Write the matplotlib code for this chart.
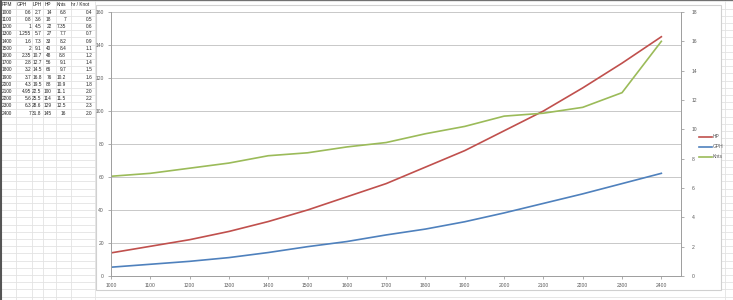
import matplotlib
matplotlib.use("Agg")
import matplotlib.pyplot as plt
from matplotlib.patches import Rectangle
from matplotlib.lines import Line2D

plt.rcParams["font.family"] = ["Liberation Sans", "DejaVu Sans"]

# ---- data ----
rpm = [1000, 1100, 1200, 1300, 1400, 1500, 1600, 1700, 1800, 1900, 2000, 2100, 2200, 2300, 2400]
gph = [0.6, 0.8, 1, 1.255, 1.6, 2, 2.35, 2.8, 3.2, 3.7, 4.3, 4.95, 5.6, 6.3, 7]
lph = [2.7, 3.6, 4.5, 5.7, 7.3, 9.1, 10.7, 12.7, 14.5, 16.8, 19.5, 22.5, 25.5, 28.6, 31.8]
hp = [14, 18, 22, 27, 33, 40, 48, 56, 66, 76, 88, 100, 114, 129, 145]
knts = [6.8, 7, 7.35, 7.7, 8.2, 8.4, 8.8, 9.1, 9.7, 10.2, 10.9, 11.1, 11.5, 12.5, 16]
hr_per_knot = [0.4, 0.5, 0.6, 0.7, 0.9, 1.1, 1.2, 1.4, 1.5, 1.6, 1.8, 2.0, 2.2, 2.3, 2.0]
headers = ["RPM", "GPH", "LPH", "HP", "Knts", "hr / Knot"]

W, H = 733, 300
fig = plt.figure(figsize=(W / 100, H / 100), dpi=100)
fig.patch.set_facecolor("white")

# ---- spreadsheet background (pixel coordinates) ----
bg = fig.add_axes([0, 0, 1, 1])
bg.set_xlim(0, W)
bg.set_ylim(H, 0)
bg.axis("off")
grid_c = "#e3e3e3"
row_h = 7.2
y = 1.4
while y < H:
    bg.plot([0, W], [y, y], color=grid_c, lw=0.6, zorder=0)
    y += row_h
for x in [15.7, 32.3, 43.3, 56, 70.7, 95, 725]:
    bg.plot([x, x], [0, H], color=grid_c, lw=0.6, zorder=0)
bg.plot([0.5, 0.5], [0, H], color="#555555", lw=1.5, zorder=1)
bg.plot([0, W], [0.3, 0.3], color="#555555", lw=1.2, zorder=1)

tfs = 3.4
tc = "#222222"
hdr_x = [2, 16.5, 33, 45, 57, 70.8]
for hx, h in zip(hdr_x, headers):
    bg.text(hx, 5, h, fontsize=tfs, color=tc, ha="left", va="center")
val_right = [None, 31.2, 41.6, 51.5, 66, 92.5]
for i in range(len(rpm)):
    yy = 12.3 + row_h * i
    bg.text(2, yy, f"{rpm[i]}", fontsize=tfs, color=tc, ha="left", va="center")
    vals = [f"{gph[i]:g}", f"{lph[i]:g}", f"{hp[i]:g}", f"{knts[i]:g}", f"{hr_per_knot[i]:.1f}"]
    for xr, v in zip(val_right[1:], vals):
        bg.text(xr, yy, v, fontsize=tfs, color=tc, ha="right", va="center")

# chart area box
bg.add_patch(Rectangle((96, 5), 625, 285, facecolor="white", edgecolor="#d0d0d0", lw=0.8, zorder=2))

# ---- chart ----
L, R, T, B = 111, 681, 12, 276
ax = fig.add_axes([L / W, (H - B) / H, (R - L) / W, (B - T) / H])
ax.set_zorder(3)
ax.patch.set_alpha(0)
ax2 = ax.twinx()

c_hp, c_gph, c_kn = "#C0504D", "#4F81BD", "#9BBB59"
ax.plot(rpm, hp, color=c_hp, lw=1.2, label="HP")
ax2.plot(rpm, gph, color=c_gph, lw=1.2, label="GPH")
ax2.plot(rpm, knts, color=c_kn, lw=1.2, label="Knts")

ax.set_xlim(1000, 2450)
ax.set_ylim(0, 160)
ax2.set_ylim(0, 18)
ax.set_xticks(rpm)
ax.set_yticks(range(0, 161, 20))
ax2.set_yticks(range(0, 19, 2))
ax.yaxis.grid(True, color="#c8c8c8", lw=0.7)
ax.set_axisbelow(True)

lab_c = "#595959"
fs = 3.6
ax.tick_params(axis="both", labelsize=fs, labelcolor=lab_c, color="#a0a0a0", length=2.5, width=0.6, pad=2.5)
ax2.tick_params(axis="y", labelsize=fs, labelcolor=lab_c, color="#a0a0a0", length=2.5, width=0.6, pad=5)
for a in (ax, ax2):
    a.spines["top"].set_visible(False)
    for s in ("left", "right", "bottom"):
        a.spines[s].set_color("#a0a0a0")
        a.spines[s].set_linewidth(0.7)

handles = [Line2D([], [], color=c_hp, lw=1.2), Line2D([], [], color=c_gph, lw=1.2), Line2D([], [], color=c_kn, lw=1.2)]
fig.legend(handles, ["HP", "GPH", "Knts"], loc="center left", bbox_to_anchor=(694 / W, 1 - 147 / H),
           frameon=False, fontsize=3.6, handlelength=2.6, handletextpad=0.2, labelspacing=1.0,
           labelcolor=lab_c)

fig.savefig("out.png", dpi=100, facecolor="white")
